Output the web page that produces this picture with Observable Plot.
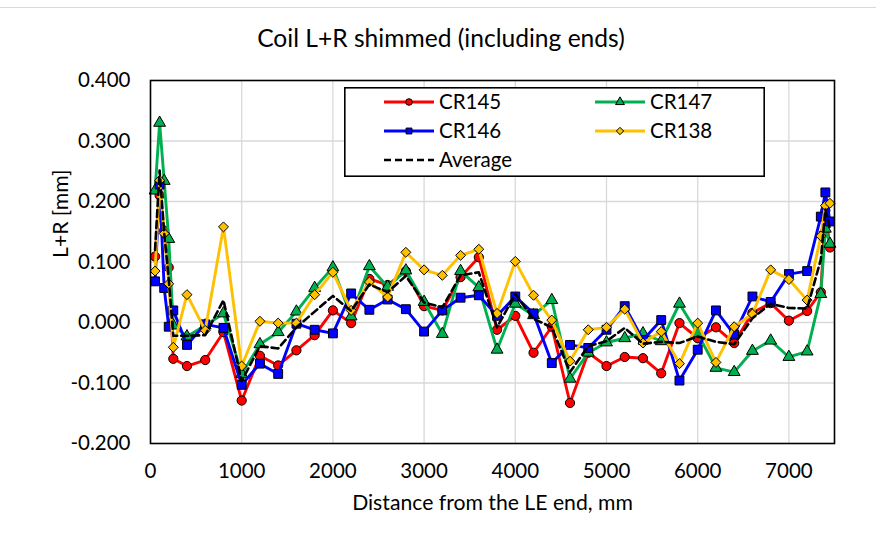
<!DOCTYPE html>
<html><head><meta charset="utf-8">
<script src="https://cdn.jsdelivr.net/npm/d3@7"></script>
<script src="https://cdn.jsdelivr.net/npm/@observablehq/plot@0.6"></script>
<style>
body{margin:0;background:#fff;font-family:Lato,"Noto Sans",sans-serif;}
#wrap{position:relative;width:876px;height:539px;overflow:hidden;background:#fff;}
#topline{position:absolute;left:0;top:7px;width:876px;height:0;border-top:1px solid #d9d9d9;}
#chart{position:absolute;left:0;top:0;}
#title{position:absolute;left:0;width:882px;top:24px;text-align:center;font-size:24.6px;line-height:28px;color:#000;font-family:Lato,sans-serif;}
#legend{position:absolute;left:344px;top:87px;}
</style></head><body>
<div id="wrap"><div id="topline"></div><div id="chart"></div><div id="title">Coil L+R shimmed (including ends)</div><svg id="legend" width="421" height="90"></svg></div>
<script>
// Distance from the LE end, mm
const distance = [50,100,150,200,250,400,600,800,1000,1200,1400,1600,1800,2000,2200,2400,2600,2800,3000,3200,3400,3600,3800,4000,4200,4400,4600,4800,5000,5200,5400,5600,5800,6000,6200,6400,6600,6800,7000,7200,7350,7400,7450];
const cr145 = [0.109,0.210,0.152,0.091,-0.060,-0.072,-0.062,-0.016,-0.129,-0.055,-0.071,-0.046,-0.021,0.020,-0.001,0.072,0.062,0.085,0.027,0.020,0.075,0.108,-0.012,0.011,-0.050,-0.007,-0.133,-0.050,-0.072,-0.057,-0.059,-0.084,-0.001,-0.026,-0.008,-0.034,0.016,0.032,0.003,0.019,0.050,0.185,0.124];
const cr147 = [0.218,0.330,0.234,0.138,-0.005,-0.023,-0.005,0.015,-0.085,-0.036,-0.016,0.018,0.057,0.091,0.010,0.093,0.059,0.086,0.034,-0.019,0.085,0.058,-0.045,0.031,0.012,0.037,-0.093,-0.050,-0.033,-0.026,-0.018,-0.031,0.031,-0.018,-0.075,-0.082,-0.047,-0.030,-0.057,-0.048,0.047,0.155,0.130];
const cr146 = [0.068,0.228,0.057,-0.007,0.020,-0.037,-0.003,-0.009,-0.103,-0.068,-0.085,-0.002,-0.012,-0.018,0.048,0.021,0.038,0.022,-0.015,0.020,0.041,0.045,0.011,0.043,0.015,-0.067,-0.037,-0.042,-0.012,0.027,-0.029,0.004,-0.096,-0.045,0.020,-0.020,0.043,0.034,0.080,0.085,0.175,0.215,0.167];
const cr138 = [0.085,0.235,0.147,0.064,-0.041,0.046,-0.013,0.158,-0.072,0.002,-0.001,-0.001,0.046,0.083,0.020,0.067,0.042,0.116,0.087,0.078,0.111,0.121,0.015,0.101,0.045,0.004,-0.064,-0.012,-0.008,0.022,-0.034,-0.015,-0.068,-0.001,-0.066,-0.007,0.014,0.087,0.071,0.037,0.143,0.193,0.197];
const average = [0.120,0.251,0.148,0.072,-0.022,-0.022,-0.021,0.037,-0.097,-0.039,-0.043,-0.008,0.018,0.044,0.019,0.063,0.050,0.077,0.033,0.025,0.078,0.083,-0.008,0.047,0.006,-0.008,-0.082,-0.039,-0.031,-0.009,-0.035,-0.032,-0.034,-0.023,-0.032,-0.036,0.007,0.031,0.024,0.023,0.104,0.187,0.155];
const seriesNames = ["CR145","CR147","CR146","CR138","Average"];
const xTicks = [0,1000,2000,3000,4000,5000,6000,7000];
const yTicks = [-0.2,-0.1,0,0.1,0.2,0.3,0.4];
const xTitle = "Distance from the LE end, mm";
const yTitle = "L+R [mm]";

const styles = {
  CR145: {color:"#FF0000", symbol:"circle", r:4.6, values:cr145},
  CR147: {color:"#00B050", symbol:"triangle", r:4.4, values:cr147},
  CR146: {color:"#0000FF", symbol:"square", r:5.0, values:cr146},
  CR138: {color:"#FFC000", symbol:"diamond2", r:4.5, values:cr138}
};

const marks = [
  Plot.gridX(xTicks.slice(1), {stroke:"#d9d9d9", strokeOpacity:1, strokeWidth:1.3}),
  Plot.gridY(yTicks.slice(1,-1), {stroke:"#d9d9d9", strokeOpacity:1, strokeWidth:1.3})
];
for (const name of ["CR145","CR147","CR146","CR138"]) {
  const s = styles[name];
  const rows = distance.map((d,i)=>({x:d, y:s.values[i]}));
  marks.push(Plot.line(rows, {x:"x", y:"y", stroke:s.color, strokeWidth:2.9}));
  marks.push(Plot.dot(rows, {x:"x", y:"y", symbol:s.symbol, r:s.r, fill:s.color, stroke:"#000", strokeWidth:1}));
}
const avgRows = distance.map((d,i)=>({x:d, y:average[i]}));
marks.push(Plot.line(avgRows, {x:"x", y:"y", stroke:"#000", strokeWidth:2.6, strokeDasharray:"7,4"}));
marks.push(Plot.frame({stroke:"#000", strokeWidth:1.6}));
marks.push(Plot.axisX(xTicks, {tickSize:0, tickPadding:20, fontSize:20.5, label:null, tickFormat:d=>String(d)}));
marks.push(Plot.axisY(yTicks, {tickSize:0, tickPadding:20, fontSize:20.5, label:null, tickFormat:d=>d.toFixed(3)}));
marks.push(Plot.text([xTitle], {text:d=>d, frameAnchor:"bottom", dy:66, fontSize:21.2}));
marks.push(Plot.text([yTitle], {text:d=>d, frameAnchor:"left", rotate:-90, dx:-89, dy:-4, fontSize:21.2}));

const chart = Plot.plot({
  width:876, height:539,
  marginLeft:150, marginRight:42, marginTop:80, marginBottom:96,
  style:{fontFamily:"Lato, sans-serif", color:"#000", background:"transparent", overflow:"visible"},
  x:{domain:[0,7500]},
  y:{domain:[-0.2,0.4]},
  marks
});
document.getElementById("chart").appendChild(chart);

// legend
const lg = d3.select("#legend");
lg.append("rect").attr("x",0.8).attr("y",0.8).attr("width",419.4).attr("height",88.4).attr("fill","#fff").attr("stroke","#000").attr("stroke-width",1.6);
const pos = [[40,15],[251,15],[40,44],[251,44],[40,73]];
const symMap = {circle:d3.symbolCircle, triangle:d3.symbolTriangle, square:d3.symbolSquare, diamond2:d3.symbolDiamond2};
seriesNames.forEach((name,i)=>{
  const [x,y] = pos[i];
  const g = lg.append("g").attr("transform",`translate(${x},${y})`);
  if (name === "Average") {
    g.append("line").attr("x1",0).attr("x2",50).attr("y1",0).attr("y2",0).attr("stroke","#000").attr("stroke-width",2.6).attr("stroke-dasharray","7,4");
  } else {
    const s = styles[name];
    g.append("line").attr("x1",0).attr("x2",50).attr("y1",0).attr("y2",0).attr("stroke",s.color).attr("stroke-width",2.8);
    g.append("path").attr("transform","translate(25,0)").attr("d", d3.symbol(symMap[s.symbol], Math.PI*3.3*3.3)()).attr("fill",s.color).attr("stroke","#000").attr("stroke-width",1);
  }
  g.append("text").attr("x",55).attr("y",0).attr("dy","0.35em").attr("font-size",20.5).attr("font-family","Lato, sans-serif").text(name);
});
</script>
</body></html>
